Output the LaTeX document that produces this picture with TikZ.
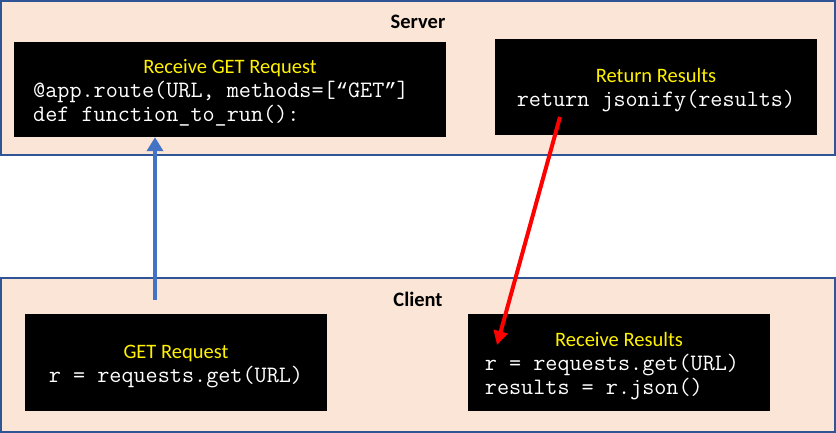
\documentclass[tikz,border=0pt]{standalone}
\usepackage{fontspec}
\setmainfont{Carlito}
\newfontfamily\QuoteFont{Liberation Mono}
\usetikzlibrary{arrows.meta}
\definecolor{PanelFill}{HTML}{FBE5D6}
\definecolor{PanelLine}{HTML}{2F5597}
\definecolor{GetBlue}{HTML}{4472C4}
\newcommand{\BoxTitle}[1]{\textcolor{yellow}{\rule{0pt}{23pt}#1}}
\newcommand{\CodeLines}[1]{{\ttfamily\fontsize{23.5}{24}\selectfont\color{white}\begin{tabular}[t]{@{}l@{}}#1\end{tabular}}}
\newcommand{\CodeQuote}[1]{{\QuoteFont\fontsize{20.5}{24}\selectfont#1}}
\tikzset{%
  PanelStyle/.style={draw=PanelLine,fill=PanelFill,line width=2pt,minimum width=834pt,minimum height=154pt,inner sep=0pt},
  PanelLabel/.style={font=\fontsize{20.5}{24}\selectfont\bfseries},
  CodeBox/.style={fill=black,inner sep=0pt,align=center,font=\fontsize{20.5}{24}\selectfont}
}

\begin{document}
\begin{tikzpicture}[x=1pt,y=-1pt]
  \useasboundingbox (0,0) rectangle (836,433);
  % panels
  \node[PanelStyle] (server) at (418,78) {};
  \node[PanelStyle] (client) at (418,354.5) {};
  \node[PanelLabel] (serverlabel) at (418,22) {Server};
  \node[PanelLabel] (clientlabel) at (418,299) {Client};
  % code boxes
  \node[CodeBox,minimum width=432pt,minimum height=95pt] (receiveget) at (230,89.5)
    {\BoxTitle{Receive GET Request}\\
     \CodeLines{@app.route(URL, methods=[\CodeQuote{“}GET\CodeQuote{”}]\\def function\_to\_run():}\hspace*{18pt}};
  \node[CodeBox,minimum width=322pt,minimum height=96pt] (returnres) at (656,87)
    {\BoxTitle{Return Results}\\
     \CodeLines{return jsonify(results)}};
  \node[CodeBox,minimum width=302pt,minimum height=97pt] (getreq) at (176,362.5)
    {\BoxTitle{GET Request}\\
     \CodeLines{r = requests.get(URL)}};
  \node[CodeBox,minimum width=302pt,minimum height=97pt] (receiveres) at (619,362.5)
    {\BoxTitle{Receive Results}\\
     \CodeLines{r = requests.get(URL)\\results = r.json()}\hspace*{14pt}};
  % arrows
  \coordinate (getstart) at (155,300);
  \coordinate (resstart) at (560,117);
  \coordinate (resend) at (497,345);
  \draw[GetBlue,line width=4.5pt,-{Triangle[width=16pt,length=14pt]}]
    (getstart) -- (getstart |- receiveget.south);
  \draw[red,line width=4pt,-{Triangle[width=14pt,length=14pt]}]
    (resstart) -- (resend);
\end{tikzpicture}
\end{document}
